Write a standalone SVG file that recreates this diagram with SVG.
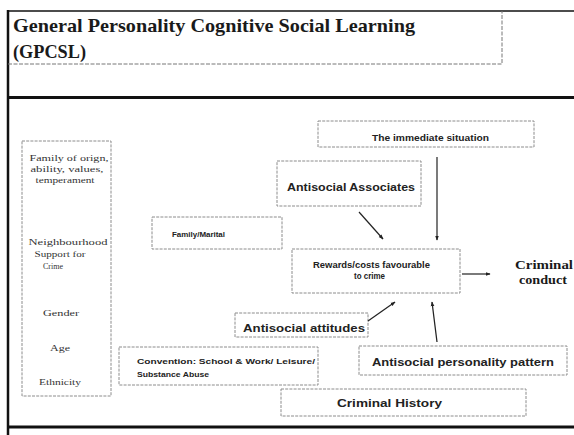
<svg xmlns="http://www.w3.org/2000/svg" width="574" height="435" viewBox="0 0 574 435">
<style>
.box{fill:none;stroke:#8c8c8c;stroke-width:1;stroke-dasharray:3 1.2}
.frame{fill:none;stroke:#111;}
.lbl{font-family:"Liberation Sans",Arial,sans-serif;font-weight:bold;fill:#222;text-anchor:middle}
.ser{font-family:"Liberation Serif","Times New Roman",serif;fill:#333;text-anchor:middle;font-size:8.5px}
.title{font-family:"Liberation Serif","Times New Roman",serif;font-weight:bold;fill:#1a1a1a;font-size:19.5px}
.con{stroke:#222;stroke-width:1.2;fill:none;marker-end:url(#ah)}
</style>
<defs>
<marker id="ah" viewBox="0 0 8 8" refX="7" refY="4" markerWidth="5" markerHeight="5" orient="auto" markerUnits="userSpaceOnUse">
<path d="M0,1 L8,4 L0,7 z" fill="#222"/>
</marker>
</defs>
<rect width="574" height="435" fill="#fff"/>
<g id="frame">
<line class="frame" x1="8" y1="10" x2="8" y2="435" stroke-width="2.5"/>
<line class="frame" x1="8" y1="11" x2="574" y2="11" stroke-width="1.5"/>
<line class="frame" x1="8" y1="97.5" x2="574" y2="97.5" stroke-width="3"/>
<line class="frame" x1="8" y1="427" x2="574" y2="427" stroke-width="3"/>
<path d="M8,64 H502 V11" fill="none" stroke="#777" stroke-width="1" stroke-dasharray="4 1.5"/>
</g>
<g id="title">
<text class="title" x="13" y="32" textLength="402" lengthAdjust="spacingAndGlyphs">General Personality Cognitive Social Learning</text>
<text class="title" x="13" y="58" textLength="73" lengthAdjust="spacingAndGlyphs">(GPCSL)</text>
</g>
<g id="static-factors">
<rect class="box" x="22" y="141" width="89" height="255"/>
<text class="ser" x="69" y="161" textLength="79" lengthAdjust="spacingAndGlyphs">Family of orign,</text>
<text class="ser" x="67" y="172" textLength="73" lengthAdjust="spacingAndGlyphs">ability, values,</text>
<text class="ser" x="65" y="183" textLength="59" lengthAdjust="spacingAndGlyphs">temperament</text>
<text class="ser" x="68" y="245" textLength="79" lengthAdjust="spacingAndGlyphs">Neighbourhood</text>
<text class="ser" x="60" y="257" textLength="51" lengthAdjust="spacingAndGlyphs">Support for</text>
<text class="ser" x="53" y="269" textLength="20" lengthAdjust="spacingAndGlyphs">Crime</text>
<text class="ser" x="61" y="316" textLength="36" lengthAdjust="spacingAndGlyphs">Gender</text>
<text class="ser" x="60" y="351" textLength="20" lengthAdjust="spacingAndGlyphs">Age</text>
<text class="ser" x="60" y="385" textLength="42" lengthAdjust="spacingAndGlyphs">Ethnicity</text>
</g>
<g id="immediate-situation">
<rect class="box" x="318" y="121" width="216" height="26"/>
<text class="lbl" x="430.5" y="141" font-size="8.5" textLength="117" lengthAdjust="spacingAndGlyphs">The immediate situation</text>
</g>
<g id="antisocial-associates">
<rect class="box" x="277" y="161" width="144" height="45"/>
<text class="lbl" x="351" y="191" font-size="11.5" textLength="128" lengthAdjust="spacingAndGlyphs">Antisocial Associates</text>
</g>
<g id="family-marital">
<rect class="box" x="152" y="217" width="130" height="32"/>
<text class="lbl" x="198.5" y="237" font-size="7.5" textLength="53" lengthAdjust="spacingAndGlyphs">Family/Marital</text>
</g>
<g id="rewards">
<rect class="box" x="292" y="249" width="168" height="44"/>
<text class="lbl" x="371.5" y="268" font-size="8.5" textLength="117" lengthAdjust="spacingAndGlyphs">Rewards/costs favourable</text>
<text class="lbl" x="369.5" y="279" font-size="8.5" textLength="31" lengthAdjust="spacingAndGlyphs">to crime</text>
</g>
<g id="criminal-conduct">
<text x="544" y="269" font-family="Liberation Serif,Times New Roman,serif" font-weight="bold" font-size="13" fill="#1a1a1a" text-anchor="middle" textLength="58" lengthAdjust="spacingAndGlyphs">Criminal</text>
<text x="543" y="284" font-family="Liberation Serif,Times New Roman,serif" font-weight="bold" font-size="13" fill="#1a1a1a" text-anchor="middle" textLength="48" lengthAdjust="spacingAndGlyphs">conduct</text>
</g>
<g id="antisocial-attitudes">
<rect class="box" x="235" y="313" width="133" height="24"/>
<text class="lbl" x="304" y="332" font-size="11" textLength="122" lengthAdjust="spacingAndGlyphs">Antisocial attitudes</text>
</g>
<g id="antisocial-personality">
<rect class="box" x="359" y="346" width="208" height="29"/>
<text class="lbl" x="463" y="366" font-size="11" textLength="182" lengthAdjust="spacingAndGlyphs">Antisocial personality pattern</text>
</g>
<g id="convention">
<rect class="box" x="119" y="347" width="199" height="38"/>
<text class="lbl" x="137" y="364" font-size="8" text-anchor="start" style="text-anchor:start" textLength="178" lengthAdjust="spacingAndGlyphs">Convention: School &amp; Work/ Leisure/</text>
<text class="lbl" x="137" y="377" font-size="8" style="text-anchor:start" textLength="72" lengthAdjust="spacingAndGlyphs">Substance Abuse</text>
</g>
<g id="criminal-history">
<rect class="box" x="281" y="389" width="245" height="27"/>
<text class="lbl" x="389.5" y="407" font-size="11.5" textLength="105" lengthAdjust="spacingAndGlyphs">Criminal History</text>
</g>
<g id="connectors">
<line class="con" x1="359" y1="212" x2="383" y2="239"/>
<line class="con" x1="437" y1="157" x2="437" y2="240"/>
<line class="con" x1="462" y1="274" x2="490" y2="274"/>
<line class="con" x1="368" y1="321" x2="395" y2="302"/>
<line class="con" x1="437" y1="342" x2="432" y2="302"/>
</g>
</svg>
